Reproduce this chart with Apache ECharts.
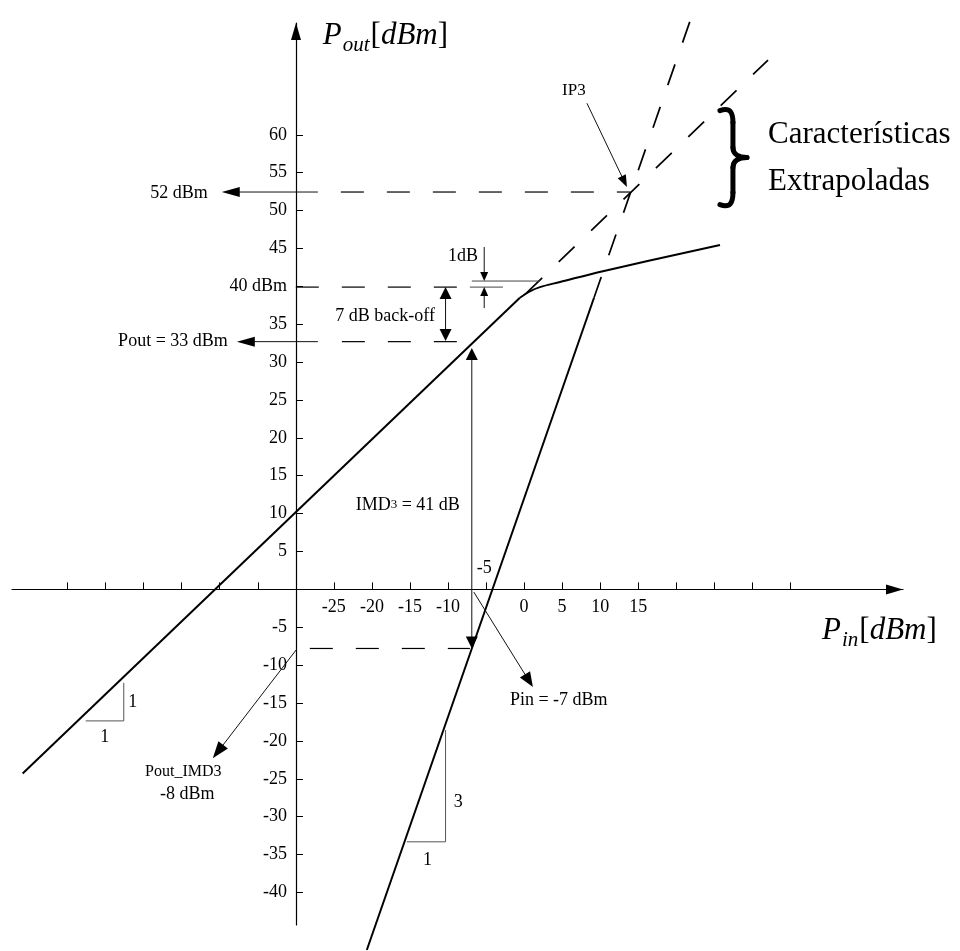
<!DOCTYPE html>
<html>
<head>
<meta charset="utf-8">
<title>IP3</title>
<script src="https://cdn.jsdelivr.net/npm/echarts@6.0.0/dist/echarts.min.js"></script>
<style>
html,body{margin:0;padding:0;background:#fff;}
#chart{width:960px;height:951px;}
</style>
</head>
<body>
<div id="chart"></div>
<script>
// ---------------- data (Pin / Pout in dBm) ----------------
const pinTickValues = [-60,-55,-50,-45,-40,-35,-25,-20,-15,-10,-5,0,5,10,15,20,25,30,35];
const pinLabelValues = [-25,-20,-15,-10,0,5,10,15];
const poutTickValues = [-40,-35,-30,-25,-20,-15,-10,-5,5,10,15,20,25,30,35,40,45,50,55,60];
const poutLabelValues = [-40,-35,-30,-25,-20,-15,-10,-5,5,10,15,20,25,30,35,40,45,50,55,60];

const fundamentalLinear = [[-65.9,-24.3],[-0.55,38.5]];
const fundamentalCompression = [[-0.55,38.5],[0.76,39.35],[2.08,39.9],[4.71,40.57],[10.36,42.0],[25.75,45.45]];
const fundamentalExtrapolated = [[0.3,39.1],[32.06,69.87]];
const imd3Solid = [[-20.67,-47.6],[9.19,38.5]];
const imd3Extrapolated = [[9.19,38.5],[22.46,76.9]];

const ip3Level = [[-24.08,52.45],[13.91,52.45]];
const p1dBLevel = [[-30,39.9],[-8.7,39.9]];
const backoffLevel = [[-23.95,32.7],[-8.7,32.7]];
const imd3Level = [[-28.16,-7.8],[-7.12,-7.8]];
const linearRefLevel = [[-6.86,40.7],[2.08,40.7]];
const compressedRefLevel = [[-7.12,39.9],[-2.78,39.9]];
const slope1Triangle = [[-57.61,-17.36],[-52.61,-17.36],[-52.61,-12.34]];
const slope3Triangle = [[-10.32,-18.57],[-10.32,-33.32],[-15.41,-33.32]];

// ---------------- annotations ----------------
const arrows = [
  {from:[-27.1,52.45], to:[-39.73,52.45], end:true, hl:18, hw:5},
  {from:[-27.1,32.7], to:[-37.75,32.7], end:true, hl:18, hw:5},
  {from:[-10.32,32.8], to:[-10.32,39.9], start:true, end:true, hl:12, hw:6},
  {from:[-5.24,45.19], to:[-5.24,40.7], end:true, hl:9, hw:4},
  {from:[-5.24,37.13], to:[-5.24,39.9], end:true, hl:9, hw:4},
  {from:[-6.87,-7.8], to:[-6.87,31.85], start:true, end:true, hl:12, hw:6},
  {from:[-6.6,-0.36], to:[1.16,-12.9], end:true, hl:15, hw:6},
  {from:[-29.87,-7.88], to:[-40.91,-22.3], end:true, hl:17, hw:6},
  {from:[8.26,64.17], to:[13.52,53.1], end:true, hl:12, hw:4.5}
];
const texts = [
  {text:'52 dBm', at:[-41.57,52.33], align:'right'},
  {text:'Pout = 33 dBm', at:[-38.94,32.7], align:'right'},
  {text:'7 dB back-off', at:[-11.72,36.08], align:'right'},
  {text:'1dB', at:[-6.07,44.0], align:'right'},
  {text:'IMD{s|3} = 41 dB', at:[-8.44,11.13], align:'right'},
  {text:'-5', at:[-5.22,2.81]},
  {text:'Pin = -7 dBm', at:[-1.86,-14.7], align:'left'},
  {text:'Pout_IMD3', at:[-44.79,-24.12], size:16},
  {text:'-8 dBm', at:[-44.27,-27.0]},
  {text:'IP3', at:[6.55,65.9], size:17},
  {text:'1', at:[-51.43,-14.9]},
  {text:'1', at:[-55.11,-19.46]},
  {text:'3', at:[-8.66,-28.04]},
  {text:'1', at:[-12.68,-35.74]},
  {text:'Características', at:[32.06,59.97], align:'left', size:31},
  {text:'Extrapoladas', at:[32.06,53.77], align:'left', size:31}
];
const braceCenter = [27.45,57.0];
const yTitleAt = [-26.45,75.1];
const xTitleAt = [39.16,-3.4];

const SERIF = '"Liberation Serif", "Times New Roman", serif';

function arrowEls(api, a) {
  const s = api.coord(a.from), e = api.coord(a.to);
  const dx = e[0]-s[0], dy = e[1]-s[1], L = Math.hypot(dx,dy);
  const ux = dx/L, uy = dy/L;
  const els = [];
  function head(tip, vx, vy) {
    const bx = tip[0]-vx*a.hl, by = tip[1]-vy*a.hl;
    return {type:'polygon', shape:{points:[[tip[0],tip[1]],[bx-vy*a.hw,by+vx*a.hw],[bx+vy*a.hw,by-vx*a.hw]]}, style:{fill:'#000'}};
  }
  let ls = s, le = e;
  if (a.end) { els.push(head(e, ux, uy)); le = [e[0]-ux*a.hl*0.8, e[1]-uy*a.hl*0.8]; }
  if (a.start) { els.push(head(s, -ux, -uy)); ls = [s[0]+ux*a.hl*0.8, s[1]+uy*a.hl*0.8]; }
  els.unshift({type:'line', shape:{x1:ls[0],y1:ls[1],x2:le[0],y2:le[1]}, style:{stroke:'#111', lineWidth:1}});
  return els;
}

function renderAnnotations(params, api) {
  if (params.dataIndex !== 0) return;
  const children = [];
  arrows.forEach(a => { arrowEls(api, a).forEach(el => children.push(el)); });
  texts.forEach(t => {
    const p = api.coord(t.at);
    children.push({type:'text', x:p[0], y:p[1], style:{
      text:t.text, fill:'#000', fontSize:t.size||18, fontFamily:SERIF,
      align:t.align||'center', verticalAlign:'middle',
      rich:{s:{fontSize:13, fontFamily:SERIF, fill:'#000'}}
    }});
  });
  // brace
  const c = api.coord(braceCenter), cx = c[0], cy = c[1];
  const bs = {stroke:'#000', lineWidth:5, lineCap:'round', fill:null};
  children.push({type:'bezierCurve', shape:{x1:cx-13,y1:cy-47,cpx1:cx-2,cpy1:cy-51,cpx2:cx,cpy2:cy-44,x2:cx,y2:cy-35}, style:bs});
  children.push({type:'line', shape:{x1:cx,y1:cy-35,x2:cx,y2:cy-10}, style:bs});
  children.push({type:'bezierCurve', shape:{x1:cx,y1:cy-10,cpx1:cx,cpy1:cy-3,cpx2:cx+6,cpy2:cy,x2:cx+14,y2:cy}, style:bs});
  children.push({type:'bezierCurve', shape:{x1:cx+14,y1:cy,cpx1:cx+6,cpy1:cy,cpx2:cx,cpy2:cy+3,x2:cx,y2:cy+10}, style:bs});
  children.push({type:'line', shape:{x1:cx,y1:cy+10,x2:cx,y2:cy+35}, style:bs});
  children.push({type:'bezierCurve', shape:{x1:cx,y1:cy+35,cpx1:cx,cpy1:cy+44,cpx2:cx-2,cpy2:cy+51,x2:cx-13,y2:cy+47}, style:bs});
  // axis titles
  const titleRich = {
    P:{fontSize:31, fontStyle:'italic', fontFamily:SERIF, lineHeight:32, verticalAlign:'top', fill:'#000'},
    sub:{fontSize:21, fontStyle:'italic', fontFamily:SERIF, lineHeight:21, padding:[15,1,0,1], verticalAlign:'top', fill:'#000'},
    br:{fontSize:31, fontFamily:SERIF, lineHeight:32, verticalAlign:'top', fill:'#000'}
  };
  const yt = api.coord(yTitleAt);
  children.push({type:'text', x:yt[0], y:yt[1], style:{text:'{P|P}{sub|out}{br|[}{P|dBm}{br|]}', rich:titleRich, align:'left', verticalAlign:'top'}});
  const xt = api.coord(xTitleAt);
  children.push({type:'text', x:xt[0], y:xt[1], style:{text:'{P|P}{sub|in}{br|[}{P|dBm}{br|]}', rich:titleRich, align:'left', verticalAlign:'top'}});
  return {type:'group', children};
}

function lineSeries(data, opts) {
  return Object.assign({
    type:'line', data:data, symbol:'none', clip:false, silent:true,
    lineStyle:{color:'#000', width:2}
  }, opts);
}

const dashMain = {color:'#000', width:1.7, type:[22,23]};
const dashThin = {color:'#000', width:1.2, type:[23,23]};

const chart = echarts.init(document.getElementById('chart'), null, {renderer:'canvas'});
chart.setOption({
  animation:false,
  backgroundColor:'#fff',
  grid:{left:12, right:57, top:23, bottom:26, containLabel:false, outerBoundsMode:'none'},
  xAxis:{
    type:'value', min:-67.3, max:49.8, position:'bottom', offset:-335.6,
    splitLine:{show:false},
    axisLine:{onZero:false, symbol:['none','triangle'], symbolSize:[10,17], symbolOffset:[0,-8.5], lineStyle:{color:'#000', width:1.2}},
    axisTick:{inside:true, length:7, customValues:pinTickValues, lineStyle:{color:'#000', width:1}},
    axisLabel:{customValues:pinLabelValues, margin:9, color:'#000', fontFamily:SERIF, fontSize:18}
  },
  yAxis:{
    type:'value', min:-44.3, max:74.76, position:'left', offset:-284,
    splitLine:{show:false},
    axisLine:{onZero:false, symbol:['none','triangle'], symbolSize:[10,17], symbolOffset:[0,-8.5], lineStyle:{color:'#000', width:1.2}},
    axisTick:{inside:true, length:7, customValues:poutTickValues, lineStyle:{color:'#000', width:1}},
    axisLabel:{customValues:poutLabelValues, margin:9, color:'#000', fontFamily:SERIF, fontSize:18,
      formatter:function(v){ return v === 40 ? '40 dBm' : String(v); }}
  },
  series:[
    lineSeries(fundamentalLinear, {}),
    lineSeries(fundamentalCompression, {smooth:0.35}),
    lineSeries(fundamentalExtrapolated, {lineStyle:dashMain}),
    lineSeries(imd3Solid, {}),
    lineSeries(imd3Extrapolated, {lineStyle:dashMain}),
    lineSeries(ip3Level, {lineStyle:dashThin}),
    lineSeries(p1dBLevel, {lineStyle:dashThin}),
    lineSeries(backoffLevel, {lineStyle:dashThin}),
    lineSeries(imd3Level, {lineStyle:dashThin}),
    lineSeries(linearRefLevel, {lineStyle:{color:'#444', width:1}}),
    lineSeries(compressedRefLevel, {lineStyle:{color:'#444', width:1}}),
    lineSeries(slope1Triangle, {lineStyle:{color:'#555', width:1}}),
    lineSeries(slope3Triangle, {lineStyle:{color:'#555', width:1}}),
    {type:'custom', coordinateSystem:'cartesian2d', data:[[0,0]], silent:true, clip:false, renderItem:renderAnnotations, z:5}
  ]
});
</script>
</body>
</html>
